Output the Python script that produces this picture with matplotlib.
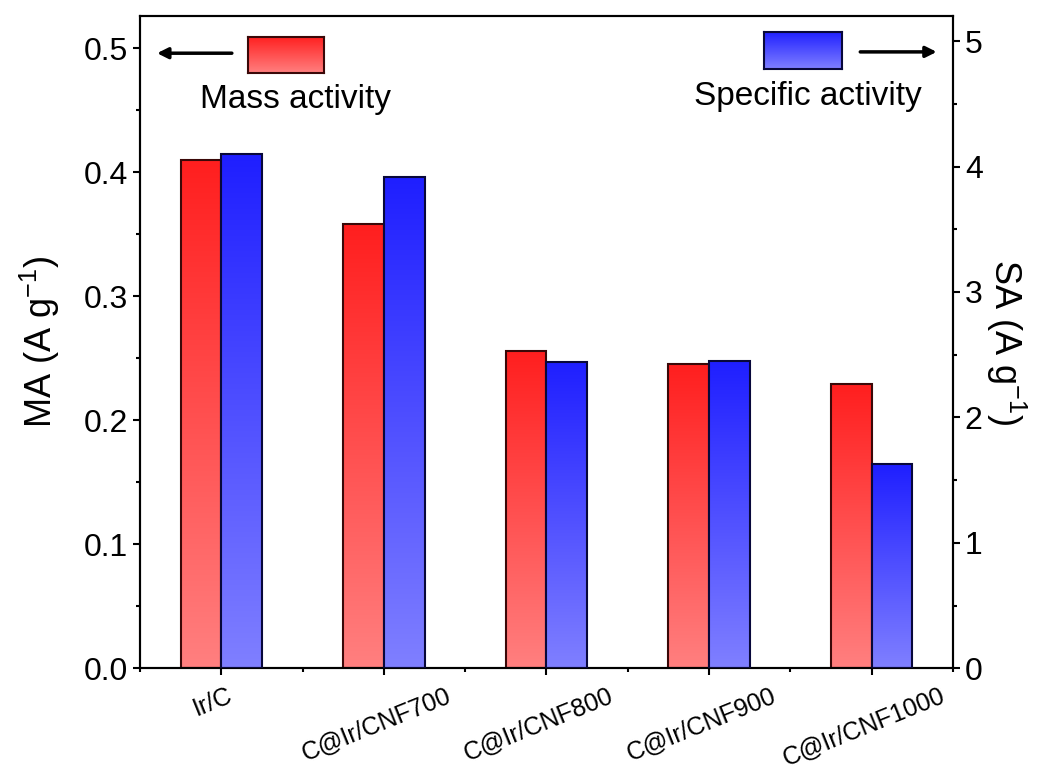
import numpy as np
import matplotlib
matplotlib.use("Agg")
import matplotlib.pyplot as plt
import matplotlib.transforms as mtransforms
from matplotlib.colors import LinearSegmentedColormap
from matplotlib.ticker import MultipleLocator, FormatStrFormatter

plt.rcParams['font.family'] = ['Liberation Sans', 'DejaVu Sans']
plt.rcParams['mathtext.fontset'] = 'custom'
plt.rcParams['mathtext.rm'] = 'Liberation Sans'
plt.rcParams['mathtext.it'] = 'Liberation Sans:italic'

# Catalyst samples and their activities
categories = ["Ir/C", "C@Ir/CNF700", "C@Ir/CNF800", "C@Ir/CNF900", "C@Ir/CNF1000"]
mass_activity = [0.410, 0.358, 0.256, 0.245, 0.229]       # MA, A g^-1
specific_activity = [4.10, 3.92, 2.44, 2.45, 1.63]        # SA, A g^-1

red_cmap = LinearSegmentedColormap.from_list("red_grad", [(1.0, 0.50, 0.50), (1.0, 0.12, 0.12)])
blue_cmap = LinearSegmentedColormap.from_list("blue_grad", [(0.50, 0.50, 1.0), (0.12, 0.12, 1.0)])
grad = np.linspace(0, 1, 256).reshape(-1, 1)


def gradient_bars(ax, xs, heights, width, cmap, edge):
    bars = ax.bar(xs, heights, width=width, facecolor="none", edgecolor=edge,
                  linewidth=1.5, zorder=3)
    for b in bars:
        x0 = b.get_x()
        ax.imshow(grad, cmap=cmap, aspect="auto", origin="lower",
                  extent=(x0, x0 + b.get_width(), 0, b.get_height()),
                  zorder=2, interpolation="bilinear")
    return bars


fig = plt.figure(figsize=(10.4, 7.74), dpi=100)
ax = fig.add_axes([0.1346, 0.1366, 0.7817, 0.8427])
ax2 = ax.twinx()

x = np.arange(1, len(categories) + 1)
w = 0.25
gradient_bars(ax, x - w / 2, mass_activity, w, red_cmap, "#3a0808")
gradient_bars(ax2, x + w / 2, specific_activity, w, blue_cmap, "#08083a")

ax.set_xlim(0.5, 5.5)
ax.set_ylim(0, 0.526)
ax2.set_ylim(0, 5.20)

ax.set_xticks(x)
ax.set_xticklabels(categories, rotation=22, ha="center")
ax.xaxis.set_minor_locator(MultipleLocator(0.5))
ax.yaxis.set_major_locator(MultipleLocator(0.1))
ax.yaxis.set_minor_locator(MultipleLocator(0.05))
ax.yaxis.set_major_formatter(FormatStrFormatter("%.1f"))
ax2.yaxis.set_major_locator(MultipleLocator(1))
ax2.yaxis.set_minor_locator(MultipleLocator(0.5))

for a in (ax, ax2):
    a.tick_params(which="major", direction="out", length=5, width=1.5, labelsize=23)
    a.tick_params(which="minor", direction="out", length=3, width=1.5)
    for s in a.spines.values():
        s.set_linewidth(1.5)
ax.tick_params(axis="x", labelsize=18, pad=6)

# nudge the slanted category labels slightly to the left
shift = mtransforms.ScaledTranslation(-8 / 100, 0, fig.dpi_scale_trans)
for lbl in ax.get_xticklabels():
    lbl.set_transform(lbl.get_transform() + shift)

ax.set_ylabel("MA (A g$^{\\mathregular{-1}}$)", fontsize=26, labelpad=16)
ax2.set_ylabel("SA (A g$^{\\mathregular{-1}}$)", fontsize=26, rotation=270, labelpad=33)

# Legend-like markers with arrows pointing to the matching axis
def legend_patch(rect, cmap, edge):
    la = fig.add_axes(rect)
    la.imshow(grad, cmap=cmap, aspect="auto", origin="lower", interpolation="bilinear")
    la.set_xticks([])
    la.set_yticks([])
    for s in la.spines.values():
        s.set_linewidth(1.5)
        s.set_edgecolor(edge)


def ax_to_fig(x0, y0, x1, y1):
    p = ax.get_position()
    return [p.x0 + x0 * p.width, p.y0 + y0 * p.height,
            (x1 - x0) * p.width, (y1 - y0) * p.height]


legend_patch(ax_to_fig(0.1328, 0.9126, 0.2263, 0.9678), red_cmap, "#3a0808")
legend_patch(ax_to_fig(0.7675, 0.9183, 0.8635, 0.9760), blue_cmap, "#08083a")

arrow = dict(arrowstyle="-|>", lw=2.5, color="black", mutation_scale=16,
             shrinkA=0, shrinkB=0)
ax.annotate("", xy=(0.021, 0.943), xytext=(0.113, 0.943),
            xycoords="axes fraction", arrowprops=arrow)
ax.annotate("", xy=(0.980, 0.945), xytext=(0.886, 0.945),
            xycoords="axes fraction", arrowprops=arrow)

ax.text(0.1907, 0.859, "Mass activity", transform=ax.transAxes,
        ha="center", va="baseline", fontsize=24)
ax.text(0.8210, 0.8634, "Specific activity", transform=ax.transAxes,
        ha="center", va="baseline", fontsize=24)

fig.savefig("out.png", dpi=100)
